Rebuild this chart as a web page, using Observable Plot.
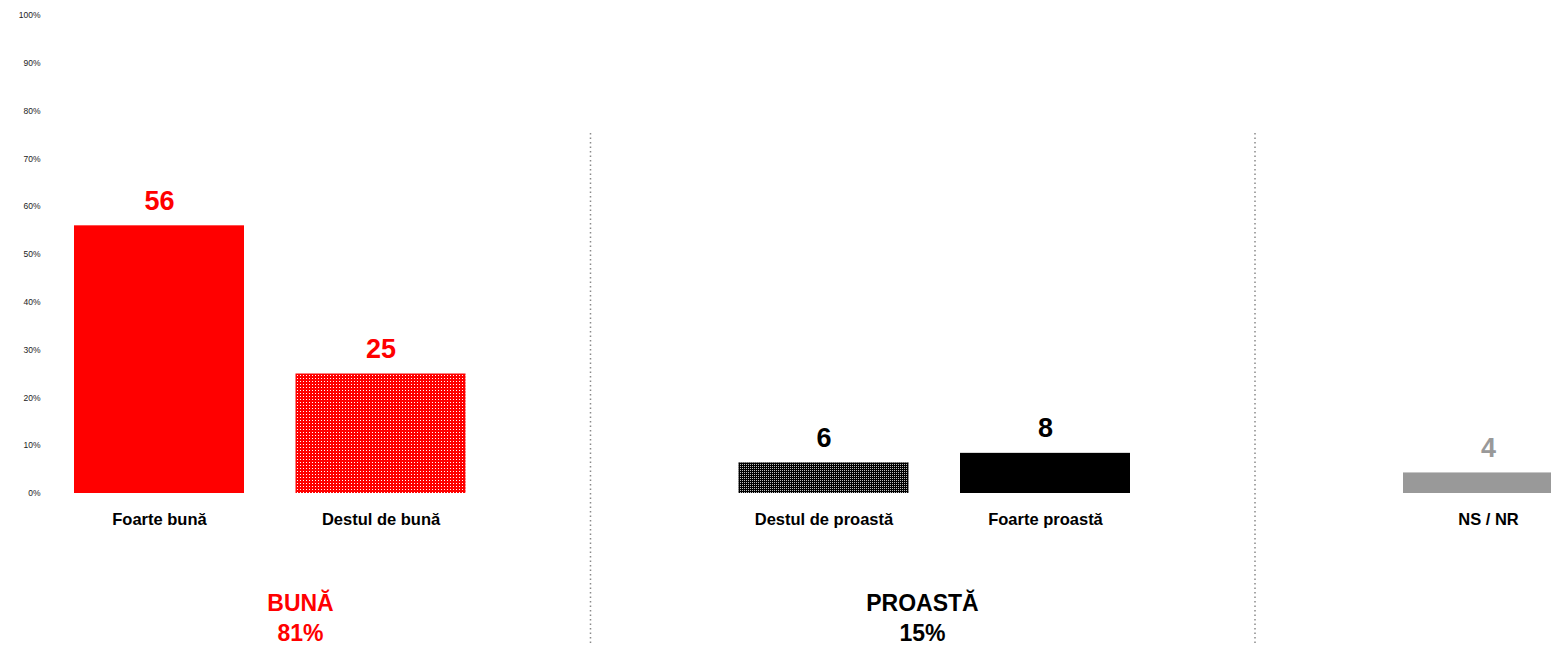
<!DOCTYPE html>
<html>
<head>
<meta charset="utf-8">
<script src="https://cdn.jsdelivr.net/npm/d3@7"></script>
<script src="https://cdn.jsdelivr.net/npm/@observablehq/plot@0.6"></script>
<style>
  html, body { margin: 0; padding: 0; background: white; overflow: hidden; }
</style>
</head>
<body>
<div id="chart"></div>
<script>
// ---- data ----
const categories = ["Foarte bună", "Destul de bună", "Destul de proastă", "Foarte proastă", "NS / NR"];
const values = [56, 25, 6.4, 8.4, 4.3];
const groupOf = ["BUNĂ", "BUNĂ", "PROASTĂ", "PROASTĂ", "NS"];
const groupNames = ["BUNĂ", "PROASTĂ"];
const groupTotals = [81, 15];
const separators = ["sep1", "sep2"];
const slots = ["Foarte bună", "Destul de bună", "sep1", "Destul de proastă", "Foarte proastă", "sep2", "NS / NR"];
const yTicks = [0, 10, 20, 30, 40, 50, 60, 70, 80, 90, 100];
const patterned = ["Destul de bună", "Destul de proastă"];

// ---- styles ----
const barFills = ["#ff0000", "#ff0000", "#000000", "#000000", "#999999"];
const overlayFills = {"Destul de bună": "url(#redDots)", "Destul de proastă": "url(#darkDots)"};
const groupColors = {"BUNĂ": "#ff0000", "PROASTĂ": "#000000", "NS": "#999999"};

const data = categories.map((c, i) => ({category: c, value: values[i], group: groupOf[i]}));

const labelMarks = Object.keys(groupColors).map(g =>
  Plot.text(data.filter(d => d.group === g), {
    x: "category", y: "value",
    text: d => String(Math.round(d.value)),
    fill: groupColors[g],
    fontSize: 27, fontWeight: "bold",
    lineAnchor: "bottom", dy: -16
  })
);

const barMarks = categories.map((c, i) =>
  Plot.barY(data.filter(d => d.category === c), {x: "category", y: "value", fill: barFills[i]})
);
const overlayMarks = patterned.map(c =>
  Plot.barY(data.filter(d => d.category === c), {x: "category", y: "value", fill: overlayFills[c]})
);

const groupLabel = (i, anchorCat, dx) => Plot.text([i], {
  x: () => anchorCat,
  text: j => `${groupNames[j]}\n${groupTotals[j]}%`,
  frameAnchor: "bottom",
  lineAnchor: "top",
  dy: 96, dx,
  lineHeight: 1.3,
  fontSize: 23, fontWeight: "bold",
  fill: groupColors[groupNames[i]]
});

const svg = Plot.plot({
  width: 1551,
  height: 645,
  marginTop: 15,
  marginBottom: 152,
  marginLeft: 44,
  marginRight: 0,
  style: {fontFamily: "'Liberation Sans', Arial, sans-serif", background: "white", overflow: "hidden", maxWidth: "none"},
  x: {type: "band", domain: slots, range: [74, 1573], paddingInner: 0.2325, paddingOuter: 0, round: false, axis: null, label: null},
  y: {domain: [0, 100], axis: null, label: null},
  marks: [
    Plot.axisY({ticks: yTicks, tickSize: 0, tickPadding: 4, tickFormat: d => d + "%", fontSize: 8.5, color: "#222", label: null}),
    Plot.axisX({ticks: categories, tickSize: 0, tickPadding: 20, fontSize: 16.5, fontWeight: "bold", color: "#000", label: null}),
    Plot.ruleX(separators, {x: d => d, dx: -12, stroke: "#8a8a8a", strokeWidth: 1.5, strokeDasharray: "1.5,3", insetTop: 118, insetBottom: -152}),
    ...barMarks,
    ...overlayMarks,
    ...labelMarks,
    groupLabel(0, "Foarte bună", 141),
    groupLabel(1, "Destul de proastă", 98.5)
  ]
});

// dot pattern overlays (transparent background)
const defs = d3.select(svg).insert("defs", ":first-child");
const addPattern = (id, dot, size) => {
  const p = defs.append("pattern").attr("id", id).attr("patternUnits", "userSpaceOnUse")
    .attr("x", 0).attr("y", 0).attr("width", size).attr("height", size);
  p.append("rect").attr("x", 0).attr("y", 0).attr("width", 1).attr("height", 1).style("fill", dot);
};
addPattern("redDots", "#ffffff", 3);
addPattern("darkDots", "#bdbdbd", 2);

document.getElementById("chart").appendChild(svg);
</script>
</body>
</html>
